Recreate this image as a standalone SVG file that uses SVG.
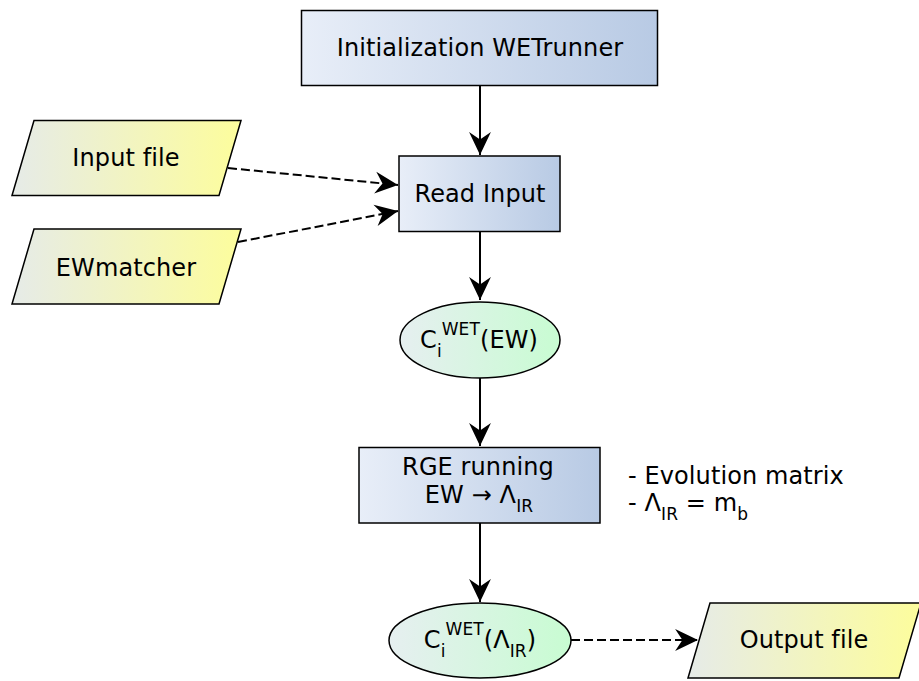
<svg xmlns="http://www.w3.org/2000/svg" width="919" height="681" viewBox="0 0 919 681">
<defs>
<linearGradient id="gBlue" x1="0" y1="0" x2="1" y2="0">
<stop offset="0" stop-color="#e8eef8"/><stop offset="1" stop-color="#b8cae4"/>
</linearGradient>
<linearGradient id="gYel" x1="0" y1="0" x2="1" y2="0">
<stop offset="0" stop-color="#e6ebe8"/><stop offset="1" stop-color="#fdfd9c"/>
</linearGradient>
<linearGradient id="gGrn" x1="0" y1="0" x2="1" y2="0">
<stop offset="0" stop-color="#e6eff0"/><stop offset="1" stop-color="#c8fcd2"/>
</linearGradient>
<marker id="arr" markerUnits="userSpaceOnUse" markerWidth="26" markerHeight="26" viewBox="-23 -12 25 24" refX="0" refY="0" orient="auto">
<path d="M0,0 L-22,-10.5 L-15,0 L-22,10.5 Z" fill="#000"/>
</marker>
<style>
.box{stroke:#000;stroke-width:1.5}
.t{font-family:"DejaVu Sans",sans-serif;font-size:24px;letter-spacing:0.1px;fill:#000}
.s{font-size:17px}
.c{stroke:#000;stroke-width:2;fill:none;marker-end:url(#arr)}
.d{stroke-dasharray:9,4}
</style>
</defs>
<g id="connectors">
<line class="c" x1="480" y1="86" x2="480" y2="155"/>
<line class="c d" x1="228" y1="168" x2="398" y2="185"/>
<line class="c d" x1="238" y1="242" x2="398" y2="211"/>
<line class="c" x1="480" y1="232" x2="480" y2="300"/>
<line class="c" x1="480" y1="378" x2="480" y2="446"/>
<line class="c" x1="480" y1="523" x2="480" y2="602"/>
<line class="c d" x1="571" y1="640" x2="698" y2="640"/>
</g>
<g id="init">
<rect class="box" x="301.5" y="10.5" width="356" height="75" fill="url(#gBlue)"/>
<text class="t" x="480" y="56" text-anchor="middle">Initialization WETrunner</text>
</g>
<g id="readinput">
<rect class="box" x="399" y="156" width="161" height="75.5" fill="url(#gBlue)"/>
<text class="t" x="480" y="202" text-anchor="middle">Read Input</text>
</g>
<g id="inputfile">
<polygon class="box" points="34,120.5 241,120.5 219,195.5 12,195.5" fill="url(#gYel)"/>
<text class="t" x="126" y="166" text-anchor="middle">Input file</text>
</g>
<g id="ewmatcher">
<polygon class="box" points="34,229 241,229 219,304 12,304" fill="url(#gYel)"/>
<text class="t" x="126" y="276" text-anchor="middle">EWmatcher</text>
</g>
<g id="ciew">
<ellipse class="box" cx="480" cy="340" rx="80" ry="38" fill="url(#gGrn)"/>
<text class="t" x="479" y="348" text-anchor="middle">C<tspan class="s" dy="9">i</tspan><tspan class="s" dy="-22">WET</tspan><tspan dy="13">(EW)</tspan></text>
</g>
<g id="rge">
<rect class="box" x="359" y="447.5" width="241" height="75.5" fill="url(#gBlue)"/>
<text class="t" x="478" y="475" text-anchor="middle">RGE running</text>
<text class="t" x="479" y="503" text-anchor="middle">EW → Λ<tspan class="s" dy="9">IR</tspan></text>
</g>
<g id="notes">
<text class="t" x="628" y="484">- Evolution matrix</text>
<text class="t" x="628" y="511">- Λ<tspan class="s" dy="9">IR</tspan><tspan dy="-9"> = m</tspan><tspan class="s" dy="9">b</tspan></text>
</g>
<g id="ciir">
<ellipse class="box" cx="480" cy="640.5" rx="91" ry="37.5" fill="url(#gGrn)"/>
<text class="t" x="480" y="648" text-anchor="middle">C<tspan class="s" dy="9">i</tspan><tspan class="s" dy="-22">WET</tspan><tspan dy="13">(Λ</tspan><tspan class="s" dy="9">IR</tspan><tspan dy="-9">)</tspan></text>
</g>
<g id="outputfile">
<polygon class="box" points="710,603 921,603 899,678 688,678" fill="url(#gYel)"/>
<text class="t" x="804" y="648" text-anchor="middle">Output file</text>
</g>
</svg>
